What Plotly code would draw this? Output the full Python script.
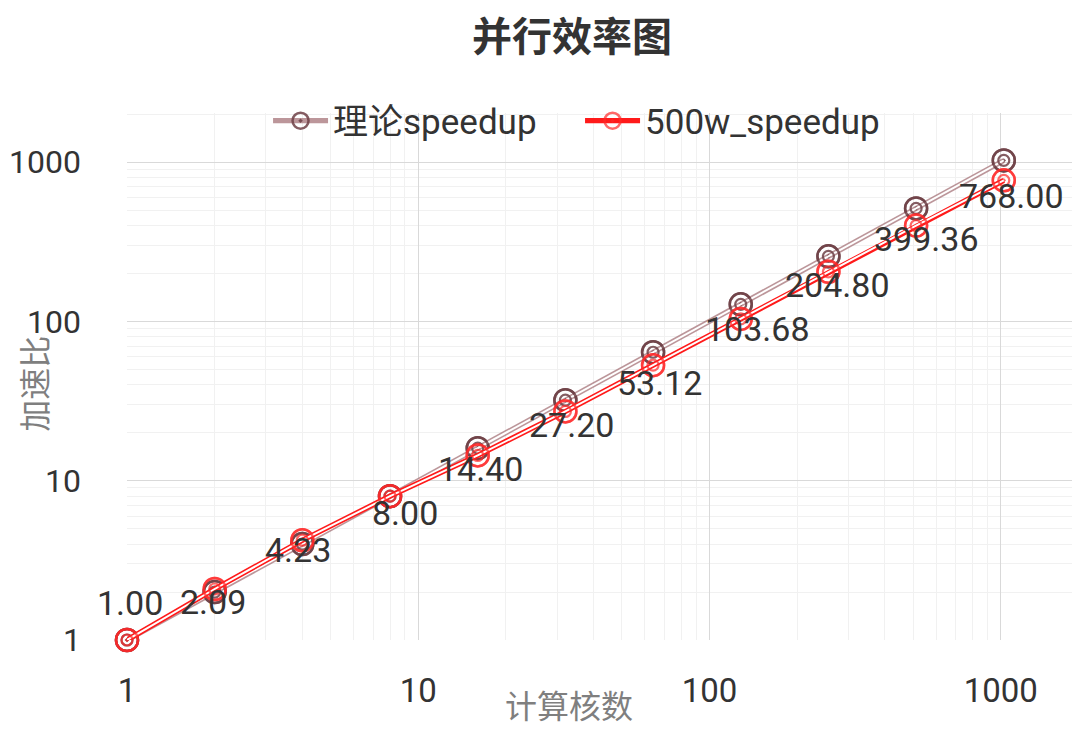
import math
import plotly.graph_objects as go

# data
cores = [1, 2, 4, 8, 16, 32, 64, 128, 256, 512, 1024]
ideal_speedup = [1, 2, 4, 8, 16, 32, 64, 128, 256, 512, 1024]
speedup_500w = [1.00, 2.09, 4.23, 8.00, 14.40, 27.20, 53.12, 103.68, 204.80, 399.36, 768.00]
axis_ticks = [1, 10, 100, 1000]

# label nudges in pixels (dx, dy), as placed in the original
label_dx = [3, -2, -4, 15, 3, 6, 6, 17, 9, 10, 8]
label_dy = [37, -13, -10, -17, -14, -14, -18, -10, -13, -13, -16]

FONT = "Roboto, 'Noto Sans CJK SC', sans-serif"
TXT = "#333333"
GREY = "#7f7f7f"

series = [
    ("理论speedup", ideal_speedup, "rgba(165,115,120,0.75)", "rgba(110,65,70,0.85)"),
    ("500w_speedup", speedup_500w, "#ff1a1a", "rgba(255,40,40,0.7)"),
]

fig = go.Figure()
for name, ys, line_col, mark_col in series:
    # thick coloured line with a thin white core -> double line
    fig.add_trace(go.Scatter(x=cores, y=ys, name=name, mode="lines+markers",
                             line=dict(color=line_col, width=5.2), cliponaxis=False,
                             marker=dict(symbol="circle-open-dot", size=22, color=mark_col,
                                         line=dict(width=2.5))))
    fig.add_trace(go.Scatter(x=cores, y=ys, mode="lines", showlegend=False,
                             hoverinfo="skip", line=dict(color="white", width=2)))
    fig.add_trace(go.Scatter(x=cores, y=ys, mode="markers", showlegend=False,
                             hoverinfo="skip", cliponaxis=False,
                             marker=dict(symbol="circle-open", size=22, color=mark_col,
                                         line=dict(width=2.5))))
    fig.add_trace(go.Scatter(x=cores, y=ys, mode="markers", showlegend=False,
                             hoverinfo="skip", cliponaxis=False,
                             marker=dict(symbol="circle-open", size=11, color=mark_col,
                                         line=dict(width=2.2))))

for i, (c, v) in enumerate(zip(cores, speedup_500w)):
    fig.add_annotation(x=math.log10(c), y=math.log10(v), text=f"{v:.2f}",
                       showarrow=False, xshift=label_dx[i], yshift=label_dy[i],
                       font=dict(size=34, color=TXT, family=FONT))

# axis titles
fig.add_annotation(text="计算核数", xref="paper", yref="paper", x=0.4638, y=-0.127,
                   xanchor="center", yanchor="middle", showarrow=False,
                   font=dict(size=32, color=GREY, family=FONT))
fig.add_annotation(text="加速比", xref="paper", yref="paper", x=-0.0955, y=0.486,
                   xanchor="center", yanchor="middle", showarrow=False, textangle=-90,
                   font=dict(size=32, color=GREY, family=FONT))

axis_common = dict(type="log", tickvals=axis_ticks, ticktext=[str(t) for t in axis_ticks],
                   showgrid=True, gridcolor="#d9d9d9", gridwidth=1.2, zeroline=False,
                   showline=False, ticks="", automargin=False,
                   minor=dict(dtick="D1", showgrid=True, gridcolor="#f1f1f1", gridwidth=1))

fig.update_xaxes(range=[0, 3.272], ticklabelstandoff=28,
                 tickfont=dict(size=33, color=TXT, family=FONT), **axis_common)
fig.update_yaxes(range=[0, 3.308], ticklabelstandoff=45,
                 tickfont=dict(size=32, color=TXT, family=FONT), **axis_common)

# page body adds an 8px offset, so the figure is 8px smaller
fig.update_layout(
    width=1072, height=724,
    margin=dict(l=119, r=0, t=105, b=92),
    paper_bgcolor="white", plot_bgcolor="white",
    font=dict(family=FONT, color=TXT),
    title=dict(text="<b>并行效率图</b>", x=564 / 1072, xanchor="center",
               y=1 - 29 / 724, yanchor="middle",
               font=dict(size=40, color=TXT, family=FONT)),
    legend=dict(orientation="h", x=0.148, xanchor="left", y=0.985, yanchor="middle",
                itemwidth=55, entrywidth=242, entrywidthmode="pixels",
                bgcolor="rgba(0,0,0,0)", font=dict(size=35, color=TXT, family=FONT)),
    showlegend=True,
)

fig.write_html("out.html")
